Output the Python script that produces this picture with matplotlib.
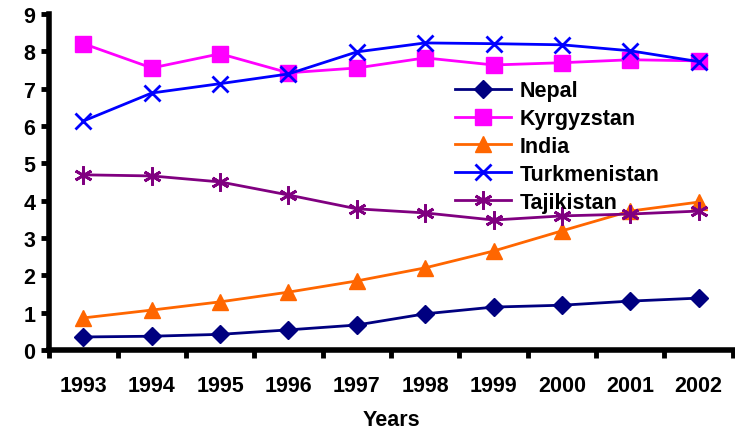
import matplotlib.pyplot as plt

plt.rcParams["font.family"] = ["Liberation Sans", "DejaVu Sans"]
plt.rcParams["font.weight"] = "bold"

years = ["1993", "1994", "1995", "1996", "1997", "1998", "1999", "2000", "2001", "2002"]
nepal = [0.35, 0.37, 0.42, 0.54, 0.67, 0.97, 1.15, 1.20, 1.31, 1.39]
kyrgyzstan = [8.20, 7.55, 7.93, 7.42, 7.55, 7.82, 7.63, 7.69, 7.77, 7.74]
india = [0.86, 1.07, 1.29, 1.55, 1.85, 2.20, 2.65, 3.19, 3.72, 3.96]
turkmenistan = [6.13, 6.88, 7.13, 7.39, 7.98, 8.22, 8.20, 8.17, 8.01, 7.72]
tajikistan = [4.69, 4.66, 4.50, 4.15, 3.78, 3.67, 3.48, 3.59, 3.64, 3.72]

fig = plt.figure(figsize=(7.35, 4.35), dpi=100)
ax = fig.add_axes([0.067, 0.193, 0.93, 0.773])

x = range(len(years))
ax.plot(x, nepal, color="#000080", marker="D", markersize=9, lw=2, label="Nepal")
ax.plot(x, kyrgyzstan, color="#ff00ff", marker="s", markersize=11, lw=2, label="Kyrgyzstan")
ax.plot(x, india, color="#ff6600", marker="^", markersize=11, lw=2, label="India")
ax.plot(x, turkmenistan, color="#0000ff", marker="x", markersize=12, mew=2, lw=2, label="Turkmenistan")
ax.plot(x, tajikistan, color="#800080", marker=(6, 2, 0), markersize=13, mew=2, lw=2, label="Tajikistan")

ax.set_xlim(-0.5, 9.5)
ax.set_ylim(0, 9)
ax.set_yticks(range(10))
ax.set_xticks(list(x))
ax.set_xticklabels(years)
ax.set_xticks([i - 0.5 for i in range(11)], minor=True)
ax.tick_params(axis="x", which="major", length=0, pad=18, labelsize=15.5)
ax.tick_params(axis="x", which="minor", length=6, width=3.5, direction="out")
ax.tick_params(axis="y", length=6, width=3.5, labelsize=15.5, pad=4)
for lab in ax.get_xticklabels() + ax.get_yticklabels():
    lab.set_fontweight("bold")

for side in ["top", "right"]:
    ax.spines[side].set_visible(False)
for side in ["left", "bottom"]:
    ax.spines[side].set_linewidth(4)

ax.set_xlabel("Years", fontsize=15.5, fontweight="bold", labelpad=9)

ax.legend(loc="upper left", bbox_to_anchor=(0.565, 0.86), frameon=False,
          prop={"size": 15.5, "weight": "bold"}, handlelength=2.6,
          labelspacing=0.32, handletextpad=0.4)

fig.savefig("out.png", dpi=100)
